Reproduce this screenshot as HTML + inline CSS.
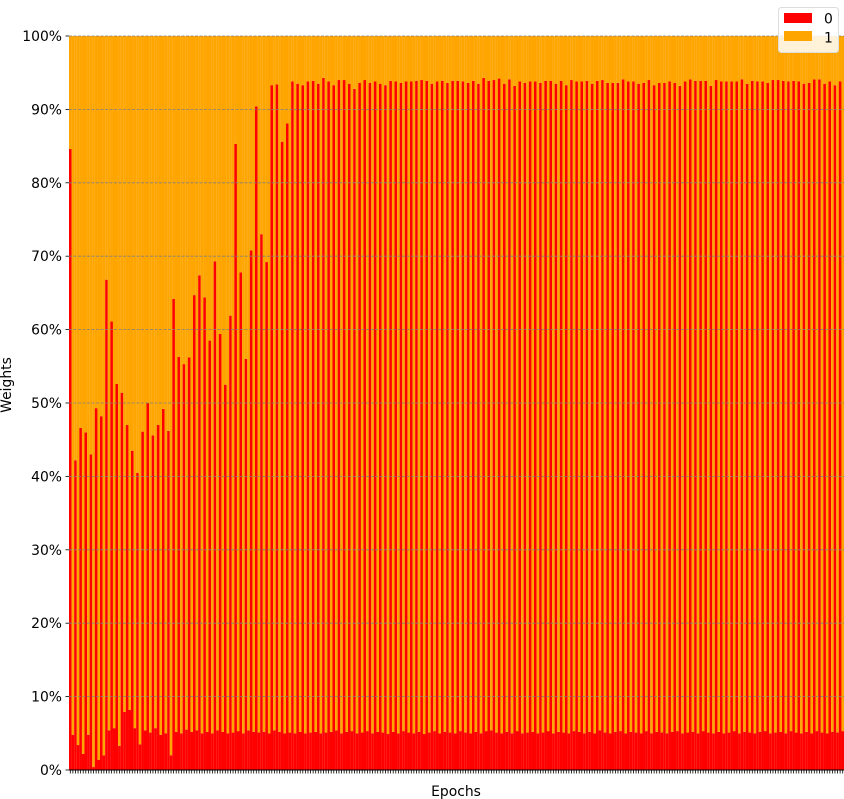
<!DOCTYPE html>
<html><head><meta charset="utf-8"><style>
html,body{margin:0;padding:0;background:#fff;}
svg{display:block;font-family:"DejaVu Sans","Liberation Sans",sans-serif;}
</style></head><body>
<svg id="chart" width="844" height="799" viewBox="0 0 844 799" xmlns="http://www.w3.org/2000/svg">
<g id="bars"></g>
<g id="grid"></g>
<g id="axes"></g>
<text x="456" y="796" font-size="13.9" text-anchor="middle">Epochs</text>
<text transform="translate(11,385) rotate(-90)" font-size="13.9" text-anchor="middle">Weights</text>
<g>
<rect x="778.5" y="7.5" width="60" height="45" rx="3" fill="#fff" fill-opacity="0.85" stroke="#ddd"/>
<rect x="784" y="13" width="28" height="10" fill="#ff0000"/>
<text x="824" y="23.5" font-size="13.9">0</text>
<rect x="784" y="31" width="28" height="10" fill="#ffa500"/>
<text x="824" y="42.5" font-size="13.9">1</text>
</g>
</svg>
<script>
const highs = [84.6,42.2,46.6,46.0,43.0,49.3,48.2,66.8,61.1,52.6,51.4,47.0,43.5,40.5,46.1,50.0,45.6,47.0,49.2,46.2,
64.2,56.3,55.3,56.2,64.7,67.4,64.4,58.5,69.3,59.4,52.5,61.9,85.3,67.8,56.0,70.8,90.4,73.0,69.2,93.3,
93.4,85.6,88.1,93.8,93.5,93.3,93.8,93.9,93.5,94.3,93.8,93.3,94.0,94.0,93.5,92.8,93.6,94.0,93.6,93.8,
93.5,93.3,93.9,93.8,93.6,93.8,93.8,93.9,94.0,93.9,93.5,93.8,93.9,93.6,93.9,93.9,93.8,93.6,93.9,93.5,
94.3,93.9,94.0,94.2,93.5,94.1,93.2,93.8,93.6,93.8,93.8,93.6,93.9,93.9,93.5,93.9,93.3,94.0,93.8,93.8,
93.9,93.5,93.9,94.0,93.6,93.6,93.6,94.1,93.8,93.8,93.5,93.6,94.0,93.3,93.6,93.6,93.8,93.6,93.2,93.8,
94.1,93.9,93.9,93.9,93.2,94.0,93.8,93.8,93.8,93.8,94.1,93.5,93.9,93.8,93.8,93.6,94.0,94.0,93.9,93.8,
93.9,93.8,93.5,93.6,94.1,94.1,93.5,93.8,93.3,93.8];
const lows = [4.8,3.4,2.2,4.8,0.4,1.4,2.0,5.4,5.7,3.3,7.9,8.2,5.7,3.5,5.4,5.1,5.7,4.8,5.0,2.0,
5.2,5.0,5.5,5.2,5.4,5.0,5.2,5.0,5.4,5.2,5.0,5.1,5.3,5.0,5.4,5.2,5.1,5.2,5.0,5.4,
5.2,5.0,5.1,5.0,5.2,5.0,5.1,5.2,5.0,5.1,5.2,5.4,5.0,5.2,5.3,5.0,5.1,5.3,5.0,5.2,
5.1,4.9,5.2,5.0,5.3,5.1,5.0,5.2,4.9,5.1,5.3,5.0,5.2,5.1,5.0,5.3,5.1,5.0,5.2,5.0,
5.3,5.4,5.1,5.0,5.2,5.0,5.3,5.0,5.1,5.2,5.0,5.1,5.3,5.0,5.2,5.1,5.0,5.3,5.2,5.0,
5.2,5.0,5.4,5.1,5.0,5.2,5.3,5.0,5.2,5.1,5.0,5.3,5.0,5.2,5.1,5.0,5.2,5.3,5.0,5.1,
5.2,5.0,5.3,5.1,5.0,5.2,5.0,5.1,5.3,5.0,5.2,5.1,5.0,5.2,5.3,5.0,5.1,5.2,5.0,5.3,
5.1,5.0,5.2,5.0,5.3,5.1,5.0,5.2,5.1,5.3];
const yTickLabels = ["0%","10%","20%","30%","40%","50%","60%","70%","80%","90%","100%"];
const yTickValues = [0,10,20,30,40,50,60,70,80,90,100];

const NS="http://www.w3.org/2000/svg";
const plotL=69, plotR=844, plotT=36, plotB=770;
const series0=[];
for(let i=0;i<highs.length;i++){series0.push(highs[i]);series0.push(lows[i]);}
const n=series0.length;
const bw=(plotR-plotL)/n;
function xPos(i){return plotL+i*bw;}
function yPos(v){return plotB-(v/100)*(plotB-plotT);}
function mk(tag,attrs,parent){const e=document.createElementNS(NS,tag);for(const k in attrs)e.setAttribute(k,attrs[k]);parent.appendChild(e);return e;}
const bars=document.getElementById('bars');
for(let i=0;i<n;i++){
  const v0=series0[i], v1=100-v0;
  const x=xPos(i);
  const r=mk('rect',{x:x,y:yPos(v0),width:bw+0.05,height:yPos(0)-yPos(v0),fill:'#ff0000'},bars);
  
  
  const o=mk('rect',{x:x,y:yPos(v0+v1),width:bw+0.05,height:yPos(v0)-yPos(v0+v1),fill:'#ffa500'},bars);
  
  
}
const grid=document.getElementById('grid');
const axes=document.getElementById('axes');
for(let j=0;j<yTickValues.length;j++){
  const y=yPos(yTickValues[j]);
  if(yTickValues[j]>0){
    const g=mk('line',{x1:plotL,x2:plotR,y1:y,y2:y,stroke:'#808080','stroke-width':0.8,'stroke-dasharray':'3,1.5'},grid);
    
    
  }
  const t=mk('line',{x1:plotL-3.5,x2:plotL,y1:y,y2:y,stroke:'#000','stroke-width':0.8},axes);
  
  
  const lb=mk('text',{x:plotL-7,y:y+5,'font-size':13.9,'text-anchor':'end'},axes);
  lb.textContent=yTickLabels[j];
  
  
}
for(let i=0;i<n;i++){
  const x=xPos(i)+bw/2;
  const t=mk('line',{x1:x,x2:x,y1:plotB,y2:plotB+3.5,stroke:'#000','stroke-width':0.8},axes);
  
  
}
const ax=mk('line',{x1:plotL,x2:plotR,y1:plotB,y2:plotB,stroke:'#000','stroke-width':1},axes);


</script>
</body></html>
